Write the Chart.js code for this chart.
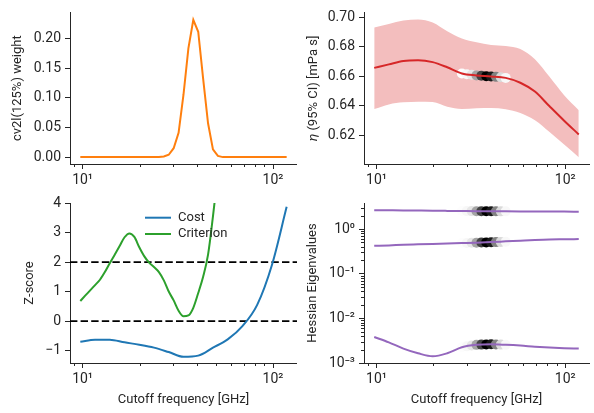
<!DOCTYPE html>
<html>
<head>
<meta charset="utf-8">
<script src="https://cdn.jsdelivr.net/npm/chart.js@4.4.1/dist/chart.umd.min.js"></script>
<style>
    html, body { margin: 0; padding: 0; background: #fff; }
    #fig { position: relative; width: 594px; height: 413px; }
    #fig canvas { position: absolute; }
</style>
</head>
<body>
<div id="fig">
    <canvas id="c_weight" width="297" height="190" style="left:0;top:0"></canvas>
    <canvas id="c_eta" width="297" height="190" style="left:297px;top:0"></canvas>
    <canvas id="c_z" width="297" height="223" style="left:0;top:190px"></canvas>
    <canvas id="c_eig" width="297" height="223" style="left:297px;top:190px"></canvas>
</div>
<script>
// Frequency grid [GHz] (log spaced)
const freq = [9.73, 10.32, 10.96, 11.63, 12.34, 13.09, 13.89, 14.75, 15.65, 16.61,
    17.62, 18.70, 19.85, 21.06, 22.35, 23.71, 25.17, 26.71, 28.34, 30.08,
    31.92, 33.87, 35.94, 38.14, 40.48, 42.95, 45.58, 48.37, 51.33, 54.47,
    57.81, 61.35, 65.10, 69.08, 73.31, 77.80, 82.56, 87.61, 92.98, 98.67,
    104.7, 111.1, 117.9];

// cv2l(125%) weight on the full grid
const weight = [0, 0, 0, 0, 0, 0, 0, 0, 0, 0, 0, 0, 0, 0, 0, 0, 0,
    0.001, 0.004, 0.015, 0.041, 0.105, 0.183, 0.231, 0.211, 0.132, 0.057, 0.013, 0.002,
    0, 0, 0, 0, 0, 0, 0, 0, 0, 0, 0, 0, 0, 0];

// Coarser grid for the smooth curves
const freqCoarse = [9.73, 11.63, 13.89, 16.61, 19.85, 23.71, 28.34, 33.87, 40.48, 48.37,
    57.81, 69.08, 82.56, 98.67, 117.9];
const etaMean = [0.6656, 0.6680, 0.6703, 0.6708, 0.6695, 0.6660, 0.6618, 0.6605, 0.6598, 0.6588,
    0.6555, 0.6495, 0.6395, 0.6297, 0.6204];
const etaHi = [0.6931, 0.6955, 0.6978, 0.6985, 0.6965, 0.6905, 0.6855, 0.6830, 0.6812, 0.6805,
    0.6785, 0.6715, 0.6595, 0.6470, 0.6368];
const etaLo = [0.6376, 0.6408, 0.6422, 0.6426, 0.6424, 0.6392, 0.6377, 0.6382, 0.6383, 0.6375,
    0.6350, 0.6300, 0.6220, 0.6135, 0.6049];
const cost = [-0.70, -0.63, -0.63, -0.72, -0.80, -0.90, -1.05, -1.21, -1.17, -0.90,
    -0.62, -0.17, 0.55, 1.90, 3.87];
const eig1 = [2.65, 2.63, 2.61, 2.59, 2.57, 2.55, 2.53, 2.51, 2.50, 2.49, 2.48, 2.47, 2.46, 2.455, 2.45];
const eig2 = [0.42, 0.43, 0.445, 0.455, 0.465, 0.475, 0.485, 0.495, 0.51, 0.53, 0.55, 0.57, 0.585, 0.59, 0.595];
const eig3 = [0.00383, 0.0029, 0.0021, 0.00165, 0.00141, 0.00165, 0.00225, 0.00255, 0.00262, 0.00255,
    0.00245, 0.00232, 0.00222, 0.00215, 0.0021];

// Criterion on the full grid (leaves the axes above 4)
const criterion = [0.68, 0.86, 1.04, 1.22, 1.40, 1.66, 1.96, 2.25, 2.54, 2.84,
    2.97, 2.85, 2.50, 2.20, 1.98, 1.83, 1.66, 1.38, 1.00, 0.70,
    0.35, 0.16, 0.19, 0.45, 0.95, 1.50, 2.25, 3.55, 5.00];

// Weighted points (grid indices 18..27)
const blobFreq = freq.slice(18, 28);
const blobWeight = weight.slice(18, 28);
const blobEta = [0.6618, 0.6613, 0.6609, 0.6605, 0.6602, 0.6600, 0.6598, 0.6595, 0.6592, 0.6588];
const blobEig1 = [2.53, 2.52, 2.52, 2.51, 2.51, 2.50, 2.50, 2.50, 2.49, 2.49];
const blobEig2 = [0.485, 0.488, 0.491, 0.495, 0.498, 0.502, 0.505, 0.510, 0.515, 0.520];
const blobEig3 = [0.00225, 0.00236, 0.00246, 0.00255, 0.00258, 0.00260, 0.00262, 0.00261, 0.00258, 0.00255];

const zLevels = [0, 2];

// Axis limits and ticks
const X_MIN = 8.59, X_MAX = 133.6;
const xMajor = [10, 100];
const xMajorLabels = ['10¹', '10²'];
const xMinor = [9, 20, 30, 40, 50, 60, 70, 80, 90];
const weightTicks = [0, 0.05, 0.10, 0.15, 0.20];
const weightLabels = ['0.00', '0.05', '0.10', '0.15', '0.20'];
const etaTicks = [0.62, 0.64, 0.66, 0.68, 0.70];
const etaLabels = ['0.62', '0.64', '0.66', '0.68', '0.70'];
const zTicks = [-1, 0, 1, 2, 3, 4];
const zLabels = ['−1', '0', '1', '2', '3', '4'];
const eigTicks = [0.001, 0.01, 0.1, 1];
const eigLabels = ['10⁻³', '10⁻²', '10⁻¹', '10⁰'];
const eigMinor = [0.002, 0.003, 0.004, 0.005, 0.006, 0.007, 0.008, 0.009,
    0.02, 0.03, 0.04, 0.05, 0.06, 0.07, 0.08, 0.09,
    0.2, 0.3, 0.4, 0.5, 0.6, 0.7, 0.8, 0.9, 2, 3];

const INK = '#262626';
const FONT = { family: 'Roboto', size: 13 };
const TICK_FONT = { family: 'Roboto', size: 14 };

const pts = (xs, ys) => ys.map((y, i) => ({ x: xs[i], y }));

// Greys colormap
const greysStops = [255, 240, 217, 189, 150, 115, 82, 37, 0];
function greys(t) {
    const p = Math.max(0, Math.min(1, t)) * (greysStops.length - 1);
    const k = Math.min(Math.floor(p), greysStops.length - 2);
    const g = Math.round(greysStops[k] + (greysStops[k + 1] - greysStops[k]) * (p - k));
    return `rgb(${g},${g},${g})`;
}
const maxW = Math.max(...blobWeight);
const blobColors = blobWeight.map(w => greys(w / maxW));

// Minor ticks, dashed levels and a frameless legend
const axisExtras = {
    id: 'axisExtras',
    beforeDatasetsDraw(chart, args, opts) {
        const { ctx, chartArea: a, scales } = chart;
        if (!opts.hLines) return;
        ctx.save();
        ctx.strokeStyle = '#000';
        ctx.lineWidth = 1.8;
        ctx.setLineDash([7.4, 3.2]);
        opts.hLines.forEach(v => {
            const py = scales.y.getPixelForValue(v);
            ctx.beginPath();
            ctx.moveTo(a.left, py);
            ctx.lineTo(a.right, py);
            ctx.stroke();
        });
        ctx.restore();
    },
    afterDraw(chart, args, opts) {
        const { ctx, chartArea: a, scales } = chart;
        ctx.save();
        ctx.strokeStyle = INK;
        ctx.lineWidth = 1;
        (opts.xMinor || []).forEach(v => {
            const px = Math.round(scales.x.getPixelForValue(v)) + 0.5;
            ctx.beginPath();
            ctx.moveTo(px, a.bottom);
            ctx.lineTo(px, a.bottom + 3);
            ctx.stroke();
        });
        (opts.yMinor || []).forEach(v => {
            const py = Math.round(scales.y.getPixelForValue(v)) + 0.5;
            if (py < a.top || py > a.bottom) return;
            ctx.beginPath();
            ctx.moveTo(a.left, py);
            ctx.lineTo(a.left - 3, py);
            ctx.stroke();
        });
        if (opts.legend) {
            const L = opts.legend;
            ctx.font = `${FONT.size}px ${FONT.family}`;
            ctx.textBaseline = 'middle';
            ctx.fillStyle = INK;
            let row = 0;
            chart.data.datasets.forEach(ds => {
                if (!ds.label) return;
                const x0 = a.left + L.x, y0 = a.top + L.y + row * L.step;
                ctx.strokeStyle = ds.borderColor;
                ctx.lineWidth = 2;
                ctx.beginPath();
                ctx.moveTo(x0, y0);
                ctx.lineTo(x0 + L.handle, y0);
                ctx.stroke();
                ctx.fillText(ds.label, x0 + L.handle + L.gap, y0);
                row++;
            });
        }
        ctx.restore();
    }
};

function xAxis(height, title) {
    return {
        type: 'logarithmic', min: X_MIN, max: X_MAX, bounds: 'data',
        afterBuildTicks: s => { s.ticks = xMajor.map(v => ({ value: v })); },
        afterFit: s => { s.height = height; },
        ticks: {
            autoSkip: false, maxRotation: 0, padding: 3, color: INK, font: TICK_FONT,
            callback: v => xMajorLabels[xMajor.indexOf(v)]
        },
        grid: { drawOnChartArea: false, tickLength: 5, tickColor: INK, tickWidth: 1 },
        border: { color: INK, width: 1 },
        title: title
            ? { display: true, text: title, color: INK, font: FONT, padding: { top: 0, bottom: 5 } }
            : { display: false }
    };
}

function yAxis(cfg) {
    return {
        type: cfg.type || 'linear', min: cfg.min, max: cfg.max, bounds: 'data',
        afterBuildTicks: s => { s.ticks = cfg.ticks.map(v => ({ value: v })); },
        afterFit: s => { s.width = cfg.width; },
        ticks: {
            autoSkip: false, padding: 4, color: INK, font: TICK_FONT,
            callback: (v, i) => cfg.labels[i]
        },
        grid: { drawOnChartArea: false, tickLength: 5, tickColor: INK, tickWidth: 1 },
        border: { color: INK, width: 1 },
        title: { display: true, text: cfg.title, color: INK, font: FONT, padding: { top: cfg.titlePad, bottom: 0 } }
    };
}

function baseOptions(padding, scales, extras) {
    return {
        responsive: false,
        animation: false,
        events: [],
        layout: { padding },
        plugins: { legend: { display: false }, tooltip: { enabled: false }, axisExtras: extras },
        scales
    };
}

const lineDs = (data, color, extra = {}) => Object.assign({
    data, borderColor: color, borderWidth: 2, pointRadius: 0,
    cubicInterpolationMode: 'monotone', fill: false
}, extra);

const blobDs = data => ({
    data, showLine: false, pointRadius: 5, pointBorderWidth: 0,
    pointBackgroundColor: blobColors, pointBorderColor: blobColors, order: 1
});

// Top left: weight
new Chart(document.getElementById('c_weight'), {
    type: 'line',
    data: { datasets: [lineDs(pts(freq, weight), '#ff7f0e', { cubicInterpolationMode: 'default', tension: 0 })] },
    options: baseOptions({ left: 0, top: 4, right: 0, bottom: 0 }, {
        x: xAxis(26),
        y: yAxis({ min: -0.0116, max: 0.2436, ticks: weightTicks, labels: weightLabels,
            width: 70, title: 'cv2l(125%) weight', titlePad: 10 })
    }, { xMinor }),
    plugins: [axisExtras]
});

// Top right: viscosity with CI band
new Chart(document.getElementById('c_eta'), {
    type: 'line',
    data: {
        datasets: [
            lineDs(pts(freqCoarse, etaHi), 'transparent', { borderWidth: 0, fill: '+1', backgroundColor: '#f3bebe', order: 3 }),
            lineDs(pts(freqCoarse, etaLo), 'transparent', { borderWidth: 0, order: 4 }),
            blobDs(pts(blobFreq, blobEta)),
            lineDs(pts(freqCoarse, etaMean), '#d62728', { order: 0 })
        ]
    },
    options: baseOptions({ left: 0, top: 4, right: 3, bottom: 0 }, {
        x: xAxis(26),
        y: yAxis({ min: 0.6003, max: 0.7033, ticks: etaTicks, labels: etaLabels,
            width: 67, title: '𝜂 (95% CI) [mPa s]', titlePad: 8.5 })
    }, { xMinor }),
    plugins: [axisExtras]
});

// Bottom left: Z-scores
new Chart(document.getElementById('c_z'), {
    type: 'line',
    data: {
        datasets: [
            lineDs(pts(freqCoarse, cost), '#1f77b4', { label: 'Cost' }),
            lineDs(pts(freq, criterion), '#2ca02c', { label: 'Criterion' })
        ]
    },
    options: baseOptions({ left: 0, top: 13, right: 0, bottom: 0 }, {
        x: xAxis(50, 'Cutoff frequency [GHz]'),
        y: yAxis({ min: -1.42, max: 4.0, ticks: zTicks, labels: zLabels,
            width: 70, title: 'Z-score', titlePad: 21.5 })
    }, { xMinor, hLines: zLevels, legend: { x: 75, y: 14.7, step: 16.3, handle: 26, gap: 7 } }),
    plugins: [axisExtras]
});

// Bottom right: Hessian eigenvalues
new Chart(document.getElementById('c_eig'), {
    type: 'line',
    data: {
        datasets: [
            blobDs(pts(blobFreq, blobEig1)),
            blobDs(pts(blobFreq, blobEig2)),
            blobDs(pts(blobFreq, blobEig3)),
            lineDs(pts(freqCoarse, eig1), '#9467bd', { order: 0 }),
            lineDs(pts(freqCoarse, eig2), '#9467bd', { order: 0 }),
            lineDs(pts(freqCoarse, eig3), '#9467bd', { order: 0 })
        ]
    },
    options: baseOptions({ left: 0, top: 13, right: 3, bottom: 0 }, {
        x: xAxis(50, 'Cutoff frequency [GHz]'),
        y: yAxis({ type: 'logarithmic', min: 0.001, max: 3.83, ticks: eigTicks, labels: eigLabels,
            width: 67, title: 'Hessian Eigenvalues', titlePad: 7.5 })
    }, { xMinor, yMinor: eigMinor }),
    plugins: [axisExtras]
});
</script>
</body>
</html>
